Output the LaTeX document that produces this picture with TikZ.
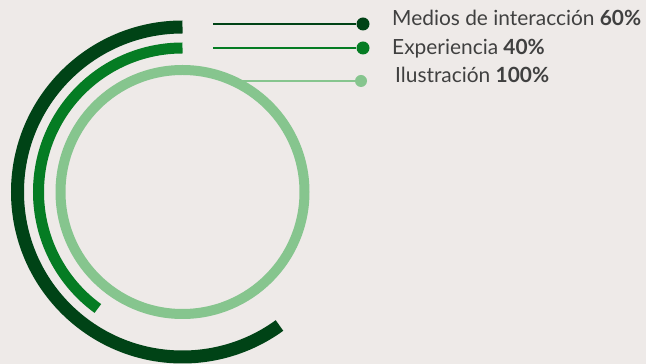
\documentclass[tikz,border=0pt]{standalone}
\usepackage{fontspec}
\setmainfont{Lato}
\definecolor{paper}{RGB}{238,234,232}
\definecolor{gdark}{RGB}{0,67,22}
\definecolor{gmid}{RGB}{5,124,35}
\definecolor{glight}{RGB}{134,197,142}
\definecolor{txt}{RGB}{64,64,64}
\begin{document}
\begin{tikzpicture}[x=1pt,y=1pt,
  ring/.style={line cap=butt},
  legline/.style={line width=2.8pt},
  legdot/.style={circle,inner sep=0pt,minimum size=13pt},
  legtext/.style={anchor=base west,inner sep=0pt,text=txt,font=\fontsize{20.9}{24}\selectfont}]
\fill[paper] (0,0) rectangle (646,364);
\useasboundingbox (0,0) rectangle (646,364);
\coordinate (c) at (182.5,172);
% rings
\draw[ring,gdark,line width=13pt] ([shift={(90:165)}]c) arc[start angle=90,end angle=306,radius=165];
\draw[ring,gmid,line width=11pt] ([shift={(90:144)}]c) arc[start angle=90,end angle=234,radius=144];
\draw[glight,line width=10pt] (c) circle[radius=122];
% legend
\node[legdot,fill=gdark] (d1) at (363,340) {};
\node[legdot,fill=gmid] (d2) at (363,316) {};
\node[legdot,fill=glight,minimum size=12pt] (d3) at (361,283) {};
\coordinate (s1) at (213,340);
\coordinate (s2) at (213,316);
\coordinate (s3) at (242,283);
\draw[legline,gdark] (s1) -- (d1);
\draw[legline,gmid] (s2) -- (d2);
\draw[legline,glight,line width=2.6pt] (s3) -- (d3);
\node[legtext] (t1) at (392,338) {Medios de interacción \textbf{60\%}};
\node[legtext] (t2) at (392,309) {Experiencia \textbf{40\%}};
\node[legtext] (t3) at (395,281) {Ilustración \textbf{100\%}};
\end{tikzpicture}
\end{document}
